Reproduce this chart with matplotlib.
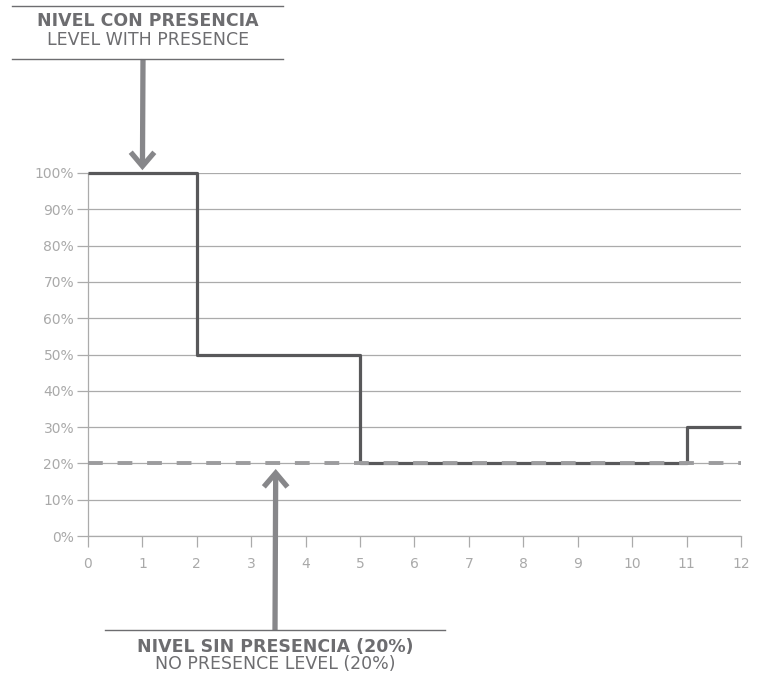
import matplotlib
matplotlib.use("Agg")
import matplotlib.pyplot as plt
from matplotlib.lines import Line2D

# step data
step_x = [0, 2, 5, 11, 12]
step_y = [100, 50, 20, 30, 30]
base_level = 20
x_ticks = list(range(0, 13))
y_ticks = list(range(0, 101, 10))
y_labels = ["%d%%" % v for v in y_ticks]

grid_col = "#ababab"
tick_col = "#a9a9a9"
line_col = "#58585a"
arrow_col = "#87878a"
text_col = "#6d6d70"

plt.rcParams['font.family'] = ['DejaVu Sans']

W, H = 759, 679
fig = plt.figure(figsize=(W / 100, H / 100), dpi=100)
ax = fig.add_axes([88 / W, 1 - 536 / H, (741 - 88) / W, (536 - 173) / H])

ax.set_xlim(0, 12)
ax.set_ylim(0, 100)
ax.set_xticks(x_ticks)
ax.set_yticks(y_ticks)
ax.set_yticklabels(y_labels)
ax.tick_params(axis='both', colors=grid_col, labelcolor=tick_col, labelsize=10,
               length=8, width=0.9)
ax.tick_params(axis='x', pad=7)
ax.tick_params(axis='y', pad=2)
for s in ['top', 'right']:
    ax.spines[s].set_visible(False)
for s in ['left', 'bottom']:
    ax.spines[s].set_color(grid_col)
    ax.spines[s].set_linewidth(0.9)
ax.yaxis.grid(True, color=grid_col, linewidth=0.9)
ax.set_axisbelow(True)

ax.plot(step_x, step_y, drawstyle='steps-post', color=line_col, linewidth=2.3,
        solid_capstyle='butt', clip_on=False, zorder=3)
ax.axhline(base_level, color="#9c9c9e", linewidth=2.8, linestyle=(0, (3.8, 3.8)),
           zorder=4, clip_on=False)

def fx(px):
    return px / W

def fy(py):
    return 1 - py / H

arrow_style = dict(arrowstyle="->,head_length=1.0,head_width=0.85",
                   color=arrow_col, linewidth=3.8, capstyle='butt',
                   joinstyle='miter', shrinkA=0)

# top annotation
fig.add_artist(Line2D([fx(12), fx(283)], [fy(6), fy(6)], color=text_col, linewidth=1))
fig.add_artist(Line2D([fx(12), fx(283)], [fy(59), fy(59)], color=text_col, linewidth=1))
fig.text(fx(148), fy(21), "NIVEL CON PRESENCIA", ha='center', va='center',
         fontsize=12.5, fontweight='bold', color=text_col)
fig.text(fx(148), fy(40), "LEVEL WITH PRESENCE", ha='center', va='center',
         fontsize=12.5, color=text_col)
ax.annotate("", xy=(1, 100), xycoords='data',
            xytext=(fx(143), fy(59)), textcoords='figure fraction',
            arrowprops=dict(arrow_style, shrinkB=2), annotation_clip=False)

# bottom annotation
fig.add_artist(Line2D([fx(105), fx(445)], [fy(630), fy(630)], color=text_col, linewidth=1))
fig.text(fx(275), fy(647), "NIVEL SIN PRESENCIA (20%)", ha='center', va='center',
         fontsize=12.5, fontweight='bold', color=text_col)
fig.text(fx(275), fy(664), "NO PRESENCE LEVEL (20%)", ha='center', va='center',
         fontsize=12.5, color=text_col)
ax.annotate("", xy=(3.45, base_level), xycoords='data',
            xytext=(fx(275), fy(630)), textcoords='figure fraction',
            arrowprops=dict(arrow_style, shrinkB=4), annotation_clip=False)

fig.savefig("out.png", dpi=100)
